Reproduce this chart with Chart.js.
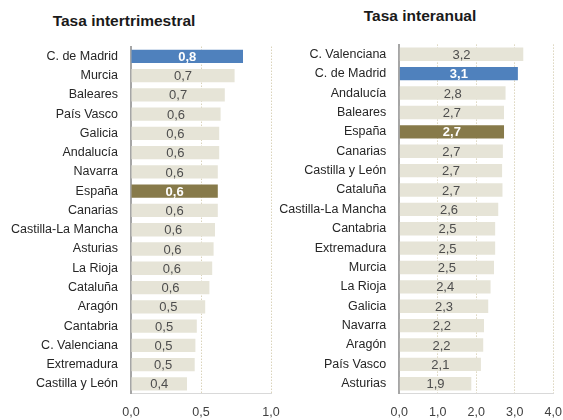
<!DOCTYPE html>
<html>
<head>
<meta charset="utf-8">
<script src="https://cdn.jsdelivr.net/npm/chart.js@4.4.1/dist/chart.umd.min.js"></script>
<style>
  html, body { margin: 0; padding: 0; background: #fff; }
  #wrap { position: relative; width: 563px; height: 420px; overflow: hidden; }
  canvas { position: absolute; top: 0; }
  .title { position: absolute; font: bold 15.5px "Liberation Sans", Arial, sans-serif; color: #1a1a1a; white-space: nowrap; transform: translate(-50%, -50%); }
</style>
</head>
<body>
<div id="wrap">
  <div class="title" style="left:124px; top:21px;">Tasa intertrimestral</div>
  <div class="title" style="left:420px; top:16px;">Tasa interanual</div>
  <canvas id="left" width="281" height="420" style="left:0"></canvas>
  <canvas id="right" width="293" height="420" style="left:270px"></canvas>
</div>
<script>
// quarterly rate (tasa intertrimestral)
const qRegions = ['C. de Madrid', 'Murcia', 'Baleares', 'País Vasco', 'Galicia', 'Andalucía',
  'Navarra', 'España', 'Canarias', 'Castilla-La Mancha', 'Asturias', 'La Rioja', 'Cataluña',
  'Aragón', 'Cantabria', 'C. Valenciana', 'Extremadura', 'Castilla y León'];
const qValues = [0.80, 0.74, 0.67, 0.64, 0.63, 0.63, 0.62, 0.62, 0.62, 0.60, 0.59, 0.58, 0.56,
  0.53, 0.47, 0.46, 0.455, 0.40];
const qTicks = [0, 0.5, 1.0];

// annual rate (tasa interanual)
const aRegions = ['C. Valenciana', 'C. de Madrid', 'Andalucía', 'Baleares', 'España', 'Canarias',
  'Castilla y León', 'Cataluña', 'Castilla-La Mancha', 'Cantabria', 'Extremadura', 'Murcia',
  'La Rioja', 'Galicia', 'Navarra', 'Aragón', 'País Vasco', 'Asturias'];
const aValues = [3.22, 3.08, 2.76, 2.72, 2.72, 2.69, 2.67, 2.68, 2.57, 2.49, 2.49, 2.46,
  2.37, 2.31, 2.20, 2.18, 2.12, 1.87];
const aTicks = [0, 1, 2, 3, 4];

const FONT = '"Liberation Sans", Arial, sans-serif';
const fmt = v => v.toFixed(1).replace('.', ',');

function barColor(name) {
  if (name === 'C. de Madrid') return '#4F81BD';
  if (name === 'España') return '#877A4A';
  return '#E6E4D7';
}
const isHighlight = name => name === 'C. de Madrid' || name === 'España';

// value labels in the middle of each bar
const barLabels = {
  id: 'barLabels',
  afterDatasetsDraw(chart) {
    const ctx = chart.ctx;
    const ds = chart.data.datasets[0];
    chart.getDatasetMeta(0).data.forEach((bar, i) => {
      const hl = isHighlight(chart.data.labels[i]);
      ctx.save();
      ctx.font = (hl ? 'bold 13px ' : '13px ') + FONT;
      ctx.fillStyle = hl ? '#ffffff' : '#4d4d4d';
      ctx.textAlign = 'center';
      ctx.textBaseline = 'middle';
      ctx.fillText(fmt(ds.data[i]), (bar.base + bar.x) / 2, bar.y + 1);
      ctx.restore();
    });
  }
};

function makeChart(id, labels, values, ticks, axisW, top, padRight) {
  return new Chart(document.getElementById(id), {
    type: 'bar',
    data: {
      labels,
      datasets: [{
        data: values,
        backgroundColor: labels.map(barColor),
        barPercentage: 1,
        categoryPercentage: 0.69
      }]
    },
    options: {
      indexAxis: 'y',
      responsive: false,
      animation: false,
      layout: { padding: { top: top, right: padRight, left: 0, bottom: 0 } },
      plugins: { legend: { display: false }, tooltip: { enabled: false } },
      scales: {
        x: {
          min: ticks[0],
          max: ticks[ticks.length - 1],
          afterBuildTicks: s => { s.ticks = ticks.map(v => ({ value: v })); },
          afterFit: s => {
            s.height = 420 - 393.5;
            s.paddingLeft = 0;
            s.paddingRight = 0;
          },
          ticks: { callback: v => fmt(v), color: '#404040', font: { family: FONT, size: 12.5 }, padding: 12 },
          grid: {
            color: c => c.tick && c.tick.value === 0 ? 'rgba(0,0,0,0)' : '#C9BF9B',
            lineWidth: 1,
            drawTicks: false
          },
          border: { display: true, color: '#D9D9D9', dash: [1, 2] }
        },
        y: {
          afterFit: s => { s.width = axisW; },
          ticks: { color: '#262626', font: { family: FONT, size: 12.5 }, padding: 13 },
          grid: { display: false, drawTicks: false },
          border: { display: true, color: '#A6A6A6', width: 2 }
        }
      }
    },
    plugins: [barLabels]
  });
}

makeChart('left', qRegions, qValues, qTicks, 131, 46.7, 10);
makeChart('right', aRegions, aValues, aTicks, 129.3, 44.6, 9.7);
</script>
</body>
</html>
